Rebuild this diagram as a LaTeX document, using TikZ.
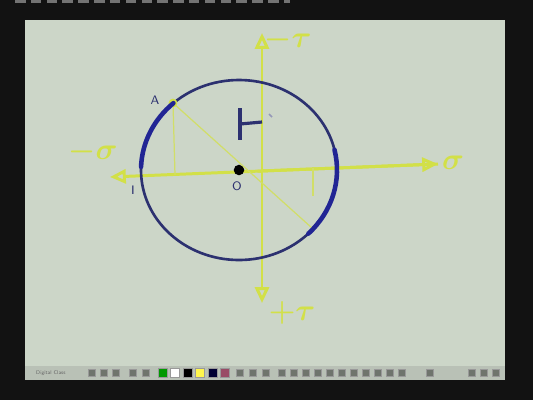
\documentclass[tikz,border=0pt]{standalone}
\usepackage{tikz}
\usetikzlibrary{arrows.meta,calc,positioning}

\definecolor{screen}{HTML}{CCD6C8}
\definecolor{chalk}{HTML}{D2E048}
\definecolor{ink}{HTML}{2C3170}
\definecolor{bar}{HTML}{B9C1B6}

\begin{document}
\begin{tikzpicture}[
    x=0.02cm, y=-0.02cm,
    axis/.style={draw=chalk, line width=1.7pt, -{Triangle[open, length=9pt, width=8pt]}},
    guide/.style={draw=chalk!75!screen, line width=0.7pt},
    pen/.style={draw=ink, line width=1.5pt},
    highlight/.style={draw=ink!75!blue, line width=2.6pt, line cap=round},
    chalklabel/.style={text=chalk, font=\LARGE\boldmath},
    inklabel/.style={text=ink, font=\scriptsize\sffamily},
    icon/.style={minimum size=5pt, inner sep=0pt, draw=black!40}
]
    % --- Rahmen ---
    \fill[black!93] (0,0) rectangle (533,400);
    \useasboundingbox (0,0) rectangle (533,400);
    \draw[black!55, line width=2pt, dash pattern=on 6pt off 3pt] (15,1) -- (290,1);
    \fill[screen] (25,20) rectangle (505,380);

    % --- Werkzeugleiste ---
    \fill[bar] (25,366) rectangle (505,380);
    \node[font=\fontsize{3}{3}\selectfont\sffamily, text=black!60, anchor=west] (logo) at (30,373) {Digital Class};
    \foreach \c [count=\i] in {green!60!black, white, black, yellow!70!white, blue!20!black, purple!40!gray} {
        \node[icon, fill=\c] (col\i) at (150+12.5*\i,373) {};
    }
    \foreach \x in {92,104,116,133,146,240,253,266,282,294,306,318,330,342,354,366,378,390,402,430,472,484,496} {
        \node[icon, fill=bar!60!black, minimum size=4pt] at (\x,373) {};
    }

    % --- Achsen ---
    \coordinate (sl) at (110,177);
    \coordinate (sr) at (438,164);
    \coordinate (tt) at (262,33);
    \coordinate (tb) at (262,303);
    \draw[axis] (sr) -- (sl);
    \draw[axis] ($(sl)!0.45!(sr)$) -- (sr);
    \draw[axis] (262,170) -- (tt);
    \draw[axis] (262,170) -- (tb);
    \node[chalklabel] (negsig) at (93,152) {$-\sigma$};
    \node[chalklabel] (sig) at (453,163) {$\sigma$};
    \node[chalklabel] (negtau) at (288,40) {$-\tau$};
    \node[chalklabel] (postau) at (292,313) {$+\tau$};

    % --- Mohr-Kreis ---
    \coordinate (O) at (239,170);
    \draw[pen] (O) ellipse [x radius=98, y radius=90];
    \fill[black] (O) circle (3pt);
    \node[inklabel] (onode) at (237,186) {O};

    % --- Hilfslinien ---
    \coordinate (A) at (173,103);
    \coordinate (Af) at (175,175);
    \coordinate (B) at (312,228);
    \coordinate (Bt) at (313,168);
    \coordinate (Bf) at (313,196);
    \draw[guide] (A) -- (Af);
    \draw[guide] (A) -- (B);
    \draw[guide] (Bt) -- (Bf);
    \fill[chalk] (A) circle (2.5pt);
    \node[inklabel] (anode) at (155,100) {A};
    \node[inklabel] (inode) at (133,190) {I};

    % --- Markierte Bögen ---
    \draw[highlight] (O) ++(-132:98 and 90) arc[start angle=-132, end angle=-178, x radius=98, y radius=90];
    \draw[highlight] (O) ++(-13:98 and 90) arc[start angle=-13, end angle=45, x radius=98, y radius=90];

    % --- Stab-Symbol ---
    \draw[pen, line width=1.8pt] (240,108) -- (240,140);
    \draw[pen, line width=1.8pt] (240,124) -- (262,122);
    \draw[ink!50, line width=1pt] (269,114) -- (272,117);
\end{tikzpicture}
\end{document}
